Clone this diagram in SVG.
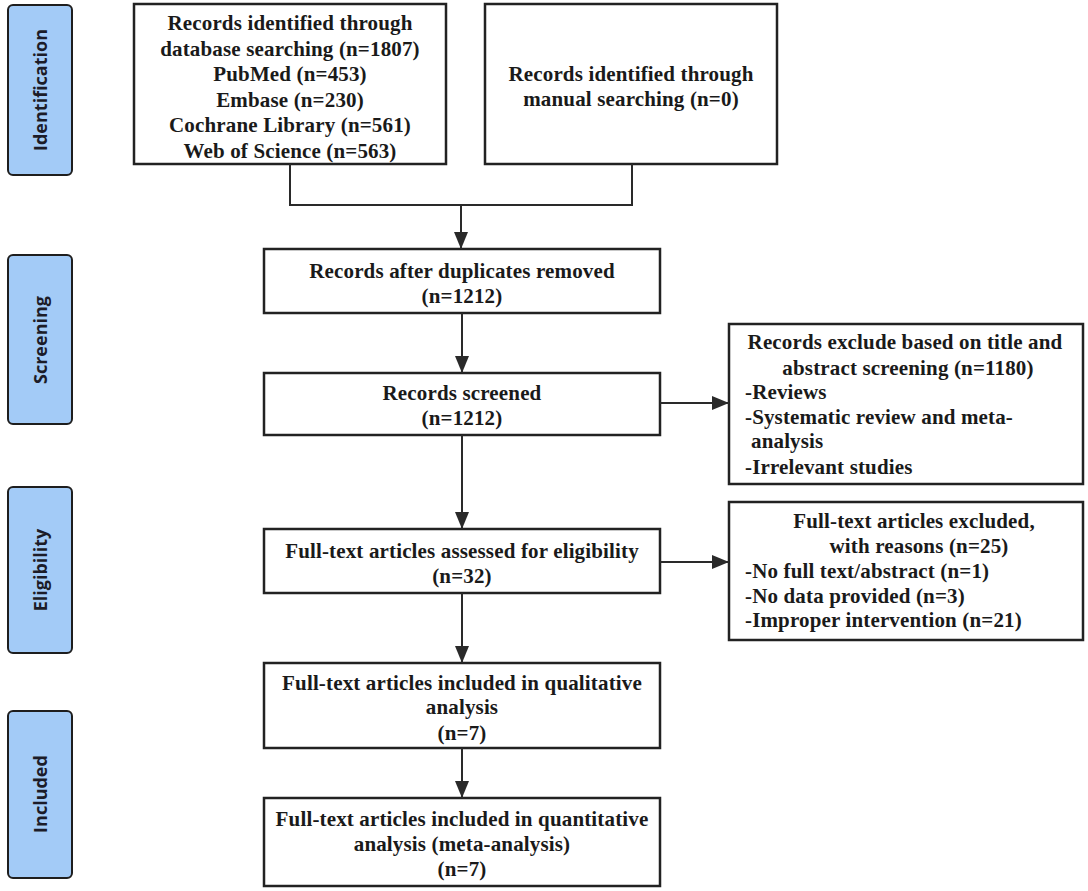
<svg xmlns="http://www.w3.org/2000/svg" width="1088" height="891" viewBox="0 0 1088 891">
<style>
.bg{fill:#ffffff}
.stage rect{fill:#a3cbf7;stroke:#1e1e1e;stroke-width:2}
.stage text{font-family:"Open Sans","DejaVu Sans",sans-serif;font-weight:bold;font-size:18px;fill:#1c1c28;text-anchor:middle}
.box rect{fill:#ffffff;stroke:#222222;stroke-width:2.5}
.box text{font-family:"Liberation Serif","Times New Roman",serif;font-weight:bold;font-size:21px;letter-spacing:0.15px;fill:#1a1a1a;text-anchor:middle}
.box text.l{text-anchor:start}
.conn path{fill:none;stroke:#2a2a2a;stroke-width:2}
</style>
<defs>
<marker id="arr" markerUnits="userSpaceOnUse" markerWidth="17" markerHeight="14" refX="17" refY="7" orient="auto">
<path d="M0,0 L17,7 L0,14 z" fill="#2a2a2a"/>
</marker>
</defs>
<rect class="bg" x="0" y="0" width="1088" height="891"/>

<g id="stage-identification" class="stage">
<rect x="8" y="5" width="64" height="170" rx="5"/>
<text transform="translate(47,90) rotate(-90)">Identification</text>
</g>
<g id="stage-screening" class="stage">
<rect x="8" y="255" width="64" height="169" rx="5"/>
<text transform="translate(47,340) rotate(-90)">Screening</text>
</g>
<g id="stage-eligibility" class="stage">
<rect x="8" y="487" width="64" height="166" rx="5"/>
<text transform="translate(47,570) rotate(-90)">Eligibility</text>
</g>
<g id="stage-included" class="stage">
<rect x="8" y="711" width="64" height="167" rx="5"/>
<text transform="translate(47,794) rotate(-90)">Included</text>
</g>

<g id="box-database" class="box">
<rect x="134" y="4" width="312" height="160"/>
<text x="290" y="30">Records identified through</text>
<text x="290" y="55.5">database searching (n=1807)</text>
<text x="290" y="81">PubMed (n=453)</text>
<text x="290" y="106.5">Embase (n=230)</text>
<text x="290" y="132">Cochrane Library (n=561)</text>
<text x="290" y="157.5">Web of Science (n=563)</text>
</g>
<g id="box-manual" class="box">
<rect x="485" y="4" width="292" height="160"/>
<text x="631" y="81">Records identified through</text>
<text x="631" y="106">manual searching (n=0)</text>
</g>
<g id="box-duplicates" class="box">
<rect x="264" y="249" width="396" height="64"/>
<text x="462" y="278">Records after duplicates removed</text>
<text x="462" y="303">(n=1212)</text>
</g>
<g id="box-screened" class="box">
<rect x="264" y="373" width="396" height="62"/>
<text x="462" y="400">Records screened</text>
<text x="462" y="425">(n=1212)</text>
</g>
<g id="box-excluded-screening" class="box">
<rect x="729" y="324" width="354" height="160"/>
<text x="905" y="349">Records exclude based on title and</text>
<text x="908" y="375">abstract screening (n=1180)</text>
<text class="l" x="745" y="399">-Reviews</text>
<text class="l" x="745" y="424">-Systematic review and meta-</text>
<text class="l" x="751" y="448">analysis</text>
<text class="l" x="745" y="474">-Irrelevant studies</text>
</g>
<g id="box-assessed" class="box">
<rect x="264" y="529" width="396" height="64"/>
<text x="462" y="558">Full-text articles assessed for eligibility</text>
<text x="462" y="583">(n=32)</text>
</g>
<g id="box-excluded-fulltext" class="box">
<rect x="729" y="502" width="354" height="138"/>
<text x="914" y="528">Full-text articles excluded,</text>
<text x="919" y="553">with reasons (n=25)</text>
<text class="l" x="745" y="578">-No full text/abstract (n=1)</text>
<text class="l" x="745" y="603">-No data provided (n=3)</text>
<text class="l" x="745" y="627">-Improper intervention (n=21)</text>
</g>
<g id="box-qualitative" class="box">
<rect x="264" y="663" width="396" height="85"/>
<text x="462" y="690">Full-text articles included in qualitative</text>
<text x="462" y="714">analysis</text>
<text x="462" y="740">(n=7)</text>
</g>
<g id="box-quantitative" class="box">
<rect x="264" y="798" width="396" height="88"/>
<text x="462" y="826">Full-text articles included in quantitative</text>
<text x="462" y="851">analysis (meta-analysis)</text>
<text x="462" y="876">(n=7)</text>
</g>

<g id="connectors" class="conn">
<path d="M290,164 V205 H632 V164"/>
<path d="M461,205 V249" marker-end="url(#arr)"/>
<path d="M462,313 V373" marker-end="url(#arr)"/>
<path d="M660,403 H729" marker-end="url(#arr)"/>
<path d="M462,435 V529" marker-end="url(#arr)"/>
<path d="M660,562 H729" marker-end="url(#arr)"/>
<path d="M462,593 V663" marker-end="url(#arr)"/>
<path d="M462,748 V798" marker-end="url(#arr)"/>
</g>
</svg>
